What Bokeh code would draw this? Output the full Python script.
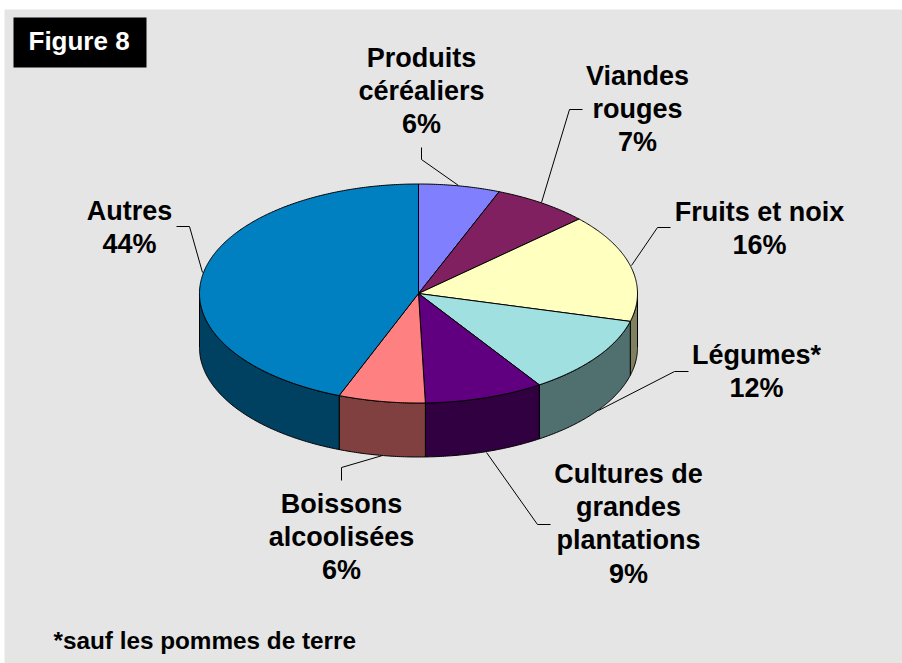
import math
from bokeh.plotting import figure
from bokeh.models import Range1d
from bokeh.core.properties import value
from bokeh.embed import file_html
from bokeh.resources import INLINE

# Data, clockwise from the top of the pie
categories = [["Produits", "céréaliers"], ["Viandes", "rouges"], ["Fruits et noix"], ["Légumes*"],
              ["Cultures de", "grandes", "plantations"], ["Boissons", "alcoolisées"], ["Autres"]]
shares = [6.0, 7.1, 16.0, 11.6, 8.8, 6.4, 44.1]
top_colors = ["#8080FF", "#802060", "#FFFFC0", "#A0E0E0", "#600080", "#FF8080", "#0080C0"]
side_colors = ["#404080", "#401030", "#808060", "#507070", "#300040", "#804040", "#004060"]

# Label layout: centre x, first baseline y
label_x = [421, 637, 759, 756, 628, 341, 129]
label_y = [66, 84, 220, 363, 482, 512, 219]
leaders_x = [[421, 421, 458], [582, 569, 541], [670, 657, 631], [688, 674, 598],
             [550, 537, 486], [341, 341, 382], [176, 189, 202]]
leaders_y = [[147, 159, 185], [109, 109, 202], [227, 227, 265], [371, 371, 410],
             [524, 524, 452], [480, 467, 455], [226, 226, 272]]

W, H = 902, 663
CX, CY, RX, RY, DEPTH = 418, 293, 219, 109.5, 54
LINE_H = 33.4
TEXT_SHIFT = -9
FONT = value("Liberation Sans")

p = figure(width=W, height=H, output_backend="svg", toolbar_location=None,
           x_range=Range1d(0, W), y_range=Range1d(H, 0), min_border=0)
p.axis.visible = False
p.grid.visible = False
p.outline_line_color = None
p.background_fill_color = "#FFFFFF"
p.border_fill_color = "#FFFFFF"

p.quad(left=[4], right=[W], top=[9], bottom=[H], fill_color="#E5E5E5", line_color=None)
p.quad(left=[13], right=[146], top=[17], bottom=[67], fill_color="#000000", line_color=None)
p.text(x=[28], y=[49], text=["Figure 8"], text_color="#FFFFFF", text_font=FONT,
       text_font_style="bold", text_font_size="26px", text_baseline="alphabetic", y_offset=TEXT_SHIFT)
p.text(x=[53], y=[649], text=["*sauf les pommes de terre"], text_color="#000000", text_font=FONT,
       text_font_style="bold", text_font_size="24.3px", text_baseline="alphabetic", y_offset=TEXT_SHIFT)


def pt(deg, dy=0.0):
    a = math.radians(deg)
    return CX + RX * math.sin(a), CY - RY * math.cos(a) + dy


# Leader lines
for xs, ys in zip(leaders_x, leaders_y):
    p.line(xs, ys, line_color="#000000", line_width=1)

# Pie
angle = 0.0
spans = []
for s in shares:
    spans.append((angle, angle + s * 3.6))
    angle += s * 3.6

for (a, b), col in zip(spans, side_colors):
    lo, hi = max(a, 90), min(b, 270)
    if hi <= lo:
        continue
    n = max(2, int((hi - lo) * 2))
    degs = [lo + (hi - lo) * i / n for i in range(n + 1)]
    top = [pt(d) for d in degs]
    bot = [pt(d, DEPTH) for d in reversed(degs)]
    pts = top + bot
    p.patch([q[0] for q in pts], [q[1] for q in pts], fill_color=col,
            line_color="#000000", line_width=1)

for (a, b), col in zip(spans, top_colors):
    n = max(2, int((b - a) * 2))
    pts = [(CX, CY)] + [pt(a + (b - a) * i / n) for i in range(n + 1)]
    p.patch([q[0] for q in pts], [q[1] for q in pts], fill_color=col,
            line_color="#000000", line_width=1)

# Labels
tx, ty, tt = [], [], []
for lines, s, x, y in zip(categories, shares, label_x, label_y):
    for i, line in enumerate(lines + [f"{round(s)}%"]):
        tx.append(x)
        ty.append(y + i * LINE_H)
        tt.append(line)
p.text(x=tx, y=ty, text=tt, text_color="#000000", text_font=FONT, text_font_style="bold",
       text_font_size="27px", text_align="center", text_baseline="alphabetic", y_offset=TEXT_SHIFT)

open("out.html", "w").write(file_html(p, INLINE))
